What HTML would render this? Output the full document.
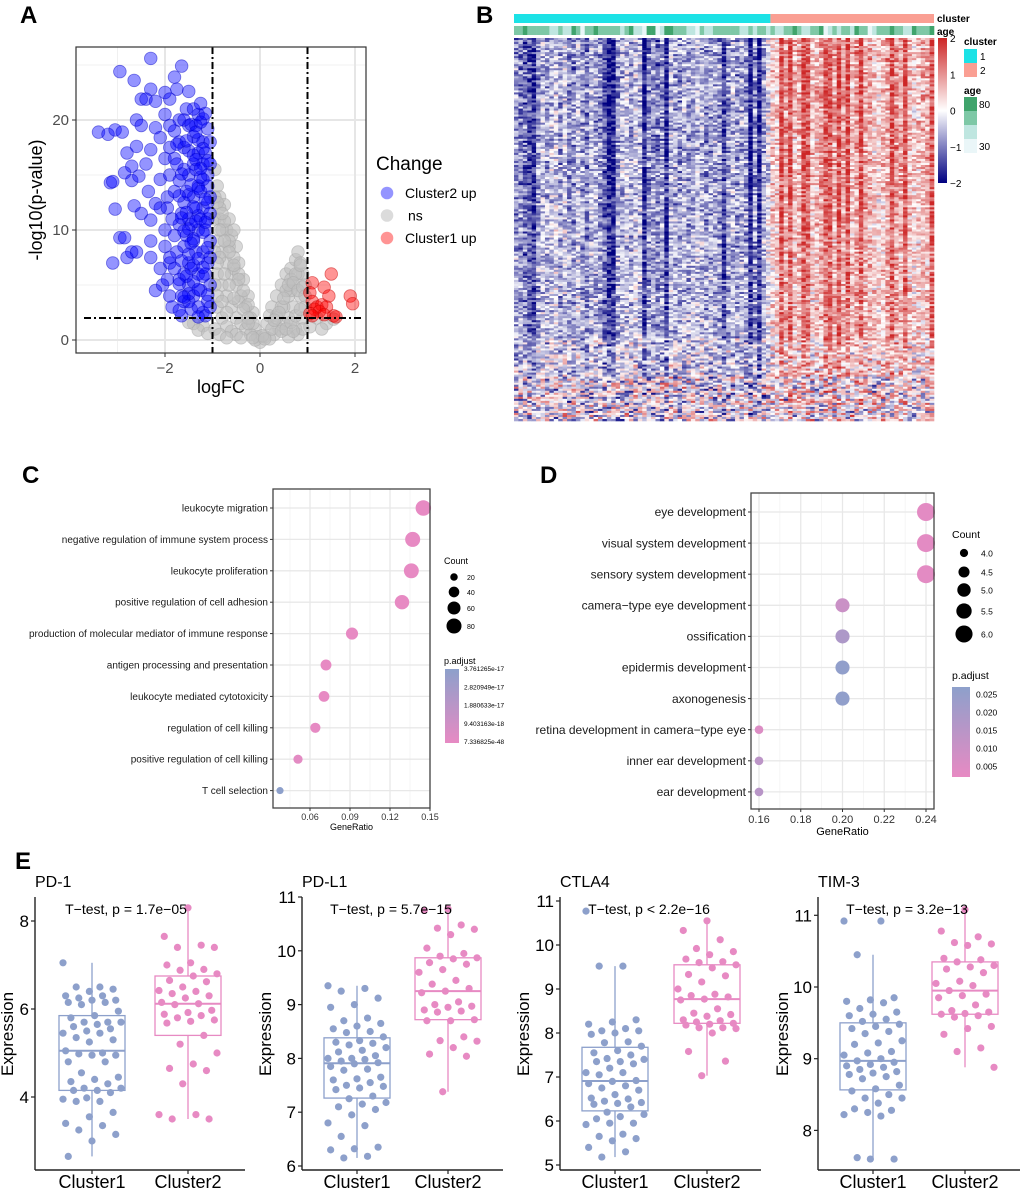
<!DOCTYPE html>
<html><head><meta charset="utf-8"><style>
html,body{margin:0;padding:0;background:#fff}
svg{display:block;font-family:"Liberation Sans",Arial,sans-serif}
</style></head><body>
<svg id="fig" width="1020" height="1188" viewBox="0 0 1020 1188" xmlns="http://www.w3.org/2000/svg">
<rect width="1020" height="1188" fill="#fff"/>
<text x="20" y="23" font-size="24" font-weight="bold">A</text>
<text x="476" y="23" font-size="24" font-weight="bold">B</text>
<text x="22" y="483" font-size="24" font-weight="bold">C</text>
<text x="540" y="483" font-size="24" font-weight="bold">D</text>
<text x="15" y="869" font-size="24" font-weight="bold">E</text>
</svg>
<script>
// ---------- DATA ----------
const blueX=[-3.4,-3.2,-3.05,-2.9,-2.95,-2.65,-2.3,-1.65,-1.8,-2.3,-2.0,-1.75,-1.5,-2.5,-2.4,-2.2,-1.9,-1.3,-1.2,-2.6,-2.5,-2.2,-2.8,-2.7,-2.85,-3.15,-3.1,-3.05,-2.95,-2.85,-3.1,-2.8,-2.7,-2.6,-2.3,-2.1,-2.2,-2.05,-1.9,-1.6,-1.65,-2.7,-2.55,-2.35,-2.5,-2.3,-2.65,-2.4,-2.3,-2.6,-2.1,-2.0,-2.1,-2.2,-2.0,-2.3,-2.0,-1.9,-2.1,-1.95,
-1.8,-1.7,-1.6,-1.5,-1.4,-1.3,-1.2,-1.1,-1.05,-1.1,-1.05,-1.1,-1.05,-1.1,-1.2,-1.3,-1.4,-1.5,-1.6,-1.7,-1.8,-1.5,-1.3,-1.2,-1.4,-1.6,-1.8,-1.7,-1.5,-1.3,-1.2,-1.4,-1.6,-1.8,-1.9,-1.7,-1.5,-1.3,-1.2,-1.4,-1.6,-1.8,-1.9,-1.7,-1.55,-1.35,-1.25,-1.45,-1.15,-1.35,-1.55,-1.75,-1.25,-1.45,-1.65,-1.15,-1.15,-1.25,-1.45,-1.65,-1.85,-1.95,-1.35,-1.55,-1.75,-1.15,-1.05,-1.05,-1.05,-1.1,-1.35,-1.6,-1.4,-1.25,-1.9,-2.0,-1.85,-1.95,-1.7,-1.5,-1.3,-1.9,-1.05,-1.05,
-1.5,-1.4,-1.3,-1.2,-1.1,-1.5,-1.4,-1.3,-1.2,-1.1,-1.5,-1.4,-1.3,-1.2,-1.1,-1.5,-1.4,-1.3,-1.2,-1.1,-1.5,-1.4,-1.3,-1.2,-1.1,-1.55,-1.45,-1.35,-1.25,-1.15,-1.55,-1.45,-1.35,-1.25,-1.15,-1.55,-1.45,-1.35,-1.25,-1.15,-1.65,-1.6,-1.7,-1.65,-1.75,-1.6,-1.7,-1.65];
const blueY=[18.9,18.7,19.1,18.9,24.4,23.6,25.6,24.9,23.9,22.8,22.5,22.8,22.6,21.9,21.9,21.7,21.9,20.5,20.1,20.0,19.5,19.3,17.0,15.8,15.2,14.3,14.4,11.9,9.3,9.3,7.0,7.5,8.0,8.0,7.5,6.5,4.5,5.0,4.0,3.5,2.2,14.5,14.9,13.5,11.5,10.9,12.2,16.0,17.3,17.6,18.4,16.5,14.6,12.4,10.0,9.0,8.5,7.0,12.0,13.0,
19,18,17.5,19.5,18.5,17,16,15,13,11,9,7,5,3.5,2.5,3,4,5,6,5.5,6.5,7,6,8,9,8.5,9.5,10.5,11,10,12,13,12.5,13.5,15,14.5,15,14,18,16,15.5,16.5,17.5,20,21,19.5,4.5,2.8,2.2,8,9.5,8,13.5,6.5,4,10,6,11,10.5,11.5,11,12,15.5,13.5,16,17,11.5,7.5,3,14,12,20,21,21.5,19.5,20.5,3,5.5,2.7,3.5,2.1,7.5,16,18,
4.2,5.3,4.6,5.8,4.1,7.8,6.8,7.4,6.6,8.4,10.1,9.2,11.3,9.8,12.5,13.2,12.1,13.8,14.6,16.3,17.2,16.8,18.2,17.4,19.2,5.8,8.8,10.8,14.8,12.8,11.6,14.1,16.4,15.6,10.7,18.1,19.6,18.9,19.8,20.6,7.2,9.9,13.1,15.1,17.8,3.9,5.1,11.1];
const greyX=[-0.95,-0.9,-0.85,-0.75,-0.85,-0.7,-0.6,-0.5,-0.45,-0.35,-0.25,-0.15,-0.1,-0.05,0,-0.9,-0.8,-0.7,-0.6,-0.5,-0.4,-0.3,-0.2,-0.9,-0.8,-0.7,-0.6,-0.5,-0.4,-0.3,-0.2,-0.9,-0.8,-0.7,-0.6,-0.5,-0.4,-0.95,-0.85,-0.7,-0.95,-0.95,-0.95,-0.95,-1.2,-1.4,-1.3,-0.1,0.1,0.15,0.25,0.35,0.45,0.55,0.65,0.75,0.8,0.9,0.95,0.85,0.7,0.6,0.5,0.4,0.3,0.2,0.75,0.9,0.95,0.8,0.6,1.2,1.4,1.55,0.5,0.6,0.7,0.8,-0.55,-0.65,-0.8,-0.65,-0.55,-0.45,0.05,0.2,0.35,0.65,0.85,-1.5,-1.1,1.05,1.3,
-0.85,-0.75,-0.65,-0.55,-0.45,-0.35,-0.25,-0.15,-0.85,-0.75,-0.65,-0.55,-0.45,-0.35,-0.25,-0.85,-0.75,-0.65,-0.55,-0.9,-0.8,-0.9,0.25,0.35,0.45,0.55,0.65,0.75,0.85,0.4,0.5,0.6,0.7,0.8,0.9,0.3,0.45,0.55,0.65,0.75,0.85,0.95,0.9,0.7,-0.9,-0.8,-0.7,-0.15,-0.25,0.1];
const greyY=[15.5,14,13,12.3,11,10,9.5,8.5,7,5.5,4,2.5,1,0.3,-0.2,9,8,7,6,5,4,3,2,6,5,4,3,2,1.5,1,0.5,3,2,1.2,0.8,0.5,0.2,1,0.5,0.2,5,8,11,13,1.3,1.5,0.9,0,0.3,1.5,3,4,5,6,6.5,7.3,8.0,6,5,4,3,2,1.5,1,0.5,0.1,1,2,3,0.5,0.3,2,1.5,1.9,3,4,5,6,10,11,10,8.5,6.5,3.5,0.4,2.2,2.2,4.5,7,1.6,0.6,1.2,1.0,
12,10.8,9,7.5,6,4.5,3.2,1.5,10,9,8,6.8,5.5,2.8,2,7.5,6,5,3.8,12.5,11.5,4,1,2,3,4.5,5.5,6,6.8,2.5,3.8,5,5.2,4.5,4.8,1.8,0.8,1,1.6,2.2,2.8,4,1,0.8,7,3.5,2.5,0.2,1.5,0.1];
const redX=[1.5,1.1,1.35,1.45,1.9,1.95,1.05,1.1,1.2,1.3,1.4,1.15,1.25,1.05,1.35,1.55,1.6,1.1];
const redY=[6.0,5.2,4.8,4.0,4.0,3.3,4.3,3.5,3.0,3.2,3.0,2.8,2.6,2.4,2.3,2.2,2.1,2.2];
const volcXTicks=[-2,0,2];
const volcYTicks=[0,10,20];

const hmLeftBias=[-0.8,-1.0,-1.2,-1.4,-1.8,-0.9,-0.6,-0.7,-0.5,-0.3,-0.8,-0.4,-0.9,-1.0,-0.5,-0.8,-1.1,-0.6,-0.7,-0.9,-1.3,-2.0,-1.9,-0.8,-0.6,-0.5,-0.7,-0.4,-0.6,-1.9,-1.0,-0.8,-1.1,-0.9,-1.9,-0.5,-0.7,-0.9,-0.6,-0.8,-0.7,-0.5,-0.6,-0.9,-0.8,-0.7,-0.8,-1.6,-0.9,-0.6,-0.8,-0.7,-0.9,-2.0,-0.9,-1.9,-0.7,-0.2];
const hmRightBias=[0.5,0.4,1.8,0.9,1.8,0.6,0.8,1.7,1.6,0.5,0.7,0.9,1.6,1.7,0.8,1.8,0.9,1.7,0.6,1.0,1.8,0.9,0.8,0.5,0.4,0.6,0.9,1.7,1.0,0.8,1.8,0.6,0.4,0.5,0.7,0.8,1.7];
const ageLevels="22322222112113202232222212311033013322211021122222211212212112232112230121221322012223221132";
const hmLegendTicks=[2,1,0,-1,-2];

const goTermsC=["leukocyte migration","negative regulation of immune system process","leukocyte proliferation","positive regulation of cell adhesion","production of molecular mediator of immune response","antigen processing and presentation","leukocyte mediated cytotoxicity","regulation of cell killing","positive regulation of cell killing","T cell selection"];
const geneRatioC=[0.145,0.137,0.136,0.129,0.0915,0.072,0.0705,0.064,0.051,0.0375];
const countC=[85,80,79,74,52,42,41,37,30,18];
const padjC=[7.3e-48,2e-40,5e-40,1e-35,5e-30,1e-20,2e-20,3e-19,1.5e-18,3.76e-17];
const xTicksC=[0.06,0.09,0.12,0.15];
const countLegendC=[20,40,60,80];
const padjLabelsC=["3.761265e-17","2.820949e-17","1.880633e-17","9.403163e-18","7.336825e-48"];

const goTermsD=["eye development","visual system development","sensory system development","camera\u2212type eye development","ossification","epidermis development","axonogenesis","retina development in camera\u2212type eye","inner ear development","ear development"];
const geneRatioD=[0.24,0.24,0.24,0.20,0.20,0.20,0.20,0.16,0.16,0.16];
const countD=[6,6,6,5,5,5,5,4,4,4];
const padjD=[0.003,0.003,0.003,0.010,0.018,0.026,0.026,0.005,0.014,0.015];
const xTicksD=[0.16,0.18,0.20,0.22,0.24];
const countLegendD=[4.0,4.5,5.0,5.5,6.0];
const padjTicksD=[0.025,0.020,0.015,0.010,0.005];

const pd1C1=[7.05,6.5,6.5,6.45,6.4,6.3,6.3,6.25,6.2,6.2,6.15,6.15,6.1,5.95,5.85,5.8,5.7,5.7,5.7,5.65,5.6,5.55,5.5,5.45,5.45,5.35,5.3,5.25,5.05,5.0,4.98,4.95,4.95,4.8,4.8,4.55,4.45,4.4,4.35,4.3,4.2,4.2,4.15,4.15,4.1,3.98,3.95,3.9,3.9,3.65,3.55,3.4,3.35,3.25,3.15,3.0,2.65];
const pd1C2=[8.3,7.65,7.45,7.4,7.4,7.05,7.0,6.9,6.88,6.8,6.75,6.65,6.62,6.5,6.42,6.4,6.35,6.3,6.25,6.15,6.12,6.1,5.97,5.92,5.88,5.85,5.8,5.75,5.72,5.68,5.4,5.2,5.0,4.75,4.65,4.6,4.3,3.6,3.6,3.5,3.5];
const pdl1C1=[9.35,9.3,9.25,9.12,9.0,8.95,8.75,8.7,8.65,8.6,8.55,8.5,8.48,8.4,8.33,8.3,8.28,8.25,8.2,8.15,8.12,8.05,8.0,8.0,7.98,7.95,7.92,7.9,7.85,7.8,7.78,7.65,7.62,7.6,7.55,7.5,7.48,7.45,7.42,7.3,7.25,7.18,7.15,7.1,7.05,6.95,6.8,6.75,6.55,6.35,6.32,6.3,6.18,6.15];
const pdl1C2=[10.78,10.75,10.48,10.42,10.4,10.3,10.05,9.95,9.9,9.87,9.85,9.78,9.75,9.65,9.6,9.45,9.38,9.3,9.25,9.22,9.05,9.0,8.97,8.95,8.9,8.88,8.86,8.72,8.7,8.7,8.4,8.33,8.32,8.2,8.08,8.04,7.38];
const ctla4C1=[10.77,9.52,9.52,8.3,8.25,8.2,8.1,8.05,8.05,8.0,7.97,7.8,7.78,7.7,7.6,7.55,7.5,7.42,7.4,7.35,7.35,7.3,7.2,7.1,7.1,7.05,6.92,6.9,6.85,6.8,6.75,6.7,6.6,6.52,6.5,6.45,6.42,6.4,6.38,6.32,6.2,6.15,6.1,6.05,5.95,5.95,5.92,5.7,5.65,5.6,5.55,5.4,5.3,5.18];
const ctla4C2=[10.55,10.33,10.12,9.92,9.85,9.78,9.68,9.62,9.6,9.55,9.48,9.33,9.3,9.16,9.0,8.88,8.85,8.82,8.77,8.75,8.55,8.45,8.42,8.38,8.3,8.28,8.25,8.22,8.2,8.18,8.12,8.12,8.1,8.0,7.58,7.36,7.03];
const tim3C1=[10.92,10.92,10.45,9.85,9.82,9.8,9.78,9.7,9.65,9.62,9.6,9.55,9.52,9.48,9.45,9.42,9.38,9.35,9.25,9.22,9.2,9.1,9.08,9.05,9.0,8.97,8.95,8.92,8.9,8.88,8.85,8.82,8.8,8.78,8.75,8.72,8.63,8.58,8.55,8.5,8.45,8.45,8.38,8.3,8.28,8.25,8.22,8.2,7.62,7.6,7.6];
const tim3C2=[11.08,10.78,10.7,10.62,10.6,10.58,10.4,10.38,10.35,10.3,10.28,10.25,10.2,10.08,10.05,10.02,9.95,9.9,9.88,9.85,9.75,9.67,9.65,9.63,9.62,9.6,9.58,9.45,9.42,9.34,9.15,9.1,8.88];
const boxTitles=["PD-1","PD-L1","CTLA4","TIM-3"];
const boxPText=["T\u2212test, p = 1.7e\u221205","T\u2212test, p = 5.7e\u221215","T\u2212test, p < 2.2e\u221216","T\u2212test, p = 3.2e\u221213"];
const pd1Ticks=[4,6,8], pdl1Ticks=[6,7,8,9,10,11], ctla4Ticks=[5,6,7,8,9,10,11], tim3Ticks=[8,9,10,11];
const groupNames=["Cluster1","Cluster2"];

// ---------- HELPERS ----------
const NS='http://www.w3.org/2000/svg';
const svg=document.getElementById('fig');
function mk(tag,attrs,parent){const e=document.createElementNS(NS,tag);for(const k in attrs)e.setAttribute(k,attrs[k]);(parent||svg).appendChild(e);return e;}
function txt(x,y,s,size,anchor,extra,parent){const e=mk('text',Object.assign({x:x,y:y,'font-size':size,'text-anchor':anchor||'start'},extra||{}),parent);e.textContent=s;return e;}
function lerp(a,b,t){return a+(b-a)*t;}
function mixRGB(c1,c2,t){return 'rgb('+Math.round(lerp(c1[0],c2[0],t))+','+Math.round(lerp(c1[1],c2[1],t))+','+Math.round(lerp(c1[2],c2[2],t))+')';}
const PINK=[231,138,195], BLUEP=[141,160,203];

// ---------- PANEL A: VOLCANO ----------
(function(){
  const g=mk('g',{});
  
  
  const X0=76,X1=366,Y0=47,Y1=353;
  const sx=v=>260+v*47.5, sy=v=>340-v*11;
  const bg=mk('rect',{x:X0,y:Y0,width:X1-X0,height:Y1-Y0,fill:'#fff'},g);
  
  
  [-3,-1,1].forEach(v=>{const l=mk('line',{x1:sx(v),x2:sx(v),y1:Y0,y2:Y1,stroke:'#f0f0f0','stroke-width':1},g);});
  [5,15,25].forEach(v=>{const l=mk('line',{x1:X0,x2:X1,y1:sy(v),y2:sy(v),stroke:'#f0f0f0','stroke-width':1},g);});
  volcXTicks.forEach(v=>{const l=mk('line',{x1:sx(v),x2:sx(v),y1:Y0,y2:Y1,stroke:'#e6e6e6','stroke-width':2},g);});
  volcYTicks.forEach(v=>{const l=mk('line',{x1:X0,x2:X1,y1:sy(v),y2:sy(v),stroke:'#e6e6e6','stroke-width':2},g);});
  function pts(xs,ys,fill,stroke,name){for(let i=0;i<xs.length;i++){const c=mk('circle',{cx:sx(xs[i]),cy:sy(ys[i]),r:6.3,fill:fill,stroke:stroke,'stroke-width':0.8},g);}}
  pts(greyX,greyY,'rgba(190,190,190,0.6)','rgba(170,170,170,0.6)','ns-point');
  pts(blueX,blueY,'rgba(0,0,255,0.42)','rgba(0,0,200,0.5)','cluster2-up-point');
  pts(redX,redY,'rgba(255,0,0,0.42)','rgba(200,0,0,0.5)','cluster1-up-point');
  [-1,1].forEach(v=>{const l=mk('line',{x1:sx(v),x2:sx(v),y1:Y0,y2:Y1,stroke:'#000','stroke-width':2,'stroke-dasharray':'7,3,2,3'},g);});
  const h=mk('line',{x1:X0+8,x2:X1-5,y1:sy(2),y2:sy(2),stroke:'#000','stroke-width':2,'stroke-dasharray':'7,3,2,3'},g);
  
  
  const fr=mk('rect',{x:X0,y:Y0,width:X1-X0,height:Y1-Y0,fill:'none',stroke:'#333','stroke-width':1.2},g);
  
  
  volcXTicks.forEach(v=>{const t=mk('line',{x1:sx(v),x2:sx(v),y1:Y1,y2:Y1+4,stroke:'#333'},g);const tl=txt(sx(v),Y1+20,String(v).replace('-','\u2212'),15,'middle',{fill:'#4d4d4d'},g);});
  volcYTicks.forEach(v=>{const t=mk('line',{x1:X0-4,x2:X0,y1:sy(v),y2:sy(v),stroke:'#333'},g);const tl=txt(X0-7,sy(v)+5,String(v),15,'end',{fill:'#4d4d4d'},g);});
  const xt=txt(221,393,'logFC',18,'middle',{},g);
  const yt=txt(0,0,'-log10(p-value)',18,'middle',{transform:'translate(42,200) rotate(-90)'},g);
  const lt=txt(376,170,'Change',19,'start',{},g);
  const leg=[['Cluster2 up','rgba(0,0,255,0.42)'],['ns','rgba(190,190,190,0.55)'],['Cluster1 up','rgba(255,0,0,0.42)']];
  leg.forEach((e,i)=>{const y=193+i*22.5;const c=mk('circle',{cx:387,cy:y,r:6.3,fill:e[1]},g);const t=txt(i==1?408:405,y+5,e[0],14,'start',{},g);});
})();

// ---------- PANEL B: HEATMAP ----------
(function(){
  const g=mk('g',{});
  
  
  const X0=514,X1=934,Y0=38,Y1=421,NR=190;
  const nL=hmLeftBias.length,nR=hmRightBias.length,NC=nL+nR;
  const cw=(X1-X0)/NC, rh=(Y1-Y0)/NR;
  const bias=hmLeftBias.concat(hmRightBias);
  function hash(i,j){let h=(i*374761393+j*668265263)|0;h=(h^(h>>>13))*1274126177|0;h=h^(h>>>16);return ((h>>>0)%10000)/10000*2-1;}
  function col(v){v=Math.max(-2,Math.min(2,v));if(v<0)return mixRGB([255,255,255],[0,0,128],-v/2);return mixRGB([255,255,255],[205,38,38],v/2);}
  for(let i=0;i<NR;i++){
    const f=i/NR;
    const s=f<0.78?1-0.3*f:(f<0.88?0.5:0.15);
    const nz=f<0.78?0.7:(f<0.88?0.95:1.3);
    for(let j=0;j<NC;j++){
      const n=hash(i,j)+0.5*hash(j,i+7);
      const v=bias[j]*s+n*nz;
      const r=mk('rect',{x:(X0+j*cw).toFixed(2),y:(Y0+i*rh).toFixed(2),width:(cw+0.3).toFixed(2),height:(rh+0.3).toFixed(2),fill:col(v)},g);
      
      
    }
  }
  const cb1=mk('rect',{x:X0,y:14,width:nL*cw,height:9,fill:'#1ce2e6'},g);
  const cb2=mk('rect',{x:X0+nL*cw,y:14,width:nR*cw,height:9,fill:'#fa9f93'},g);
  const ageCols=['#eaf6f8','#bfe6e0','#7ec8a6','#40a46c'];
  for(let j=0;j<NC;j++){const a=+ageLevels[j%ageLevels.length];const r=mk('rect',{x:X0+j*cw,y:26,width:cw+0.3,height:9,fill:ageCols[a]},g);}
  const l1=txt(937,22,'cluster',10,'start',{'font-weight':'bold'},g);
  const l2=txt(937,35,'age',10,'start',{'font-weight':'bold'},g);
  const defs=mk('defs',{},g);
  const lg=mk('linearGradient',{id:'hmGrad',x1:0,y1:0,x2:0,y2:1},defs);
  mk('stop',{offset:'0','stop-color':'#cd2626'},lg);mk('stop',{offset:'0.5','stop-color':'#ffffff'},lg);mk('stop',{offset:'1','stop-color':'#000080'},lg);
  const bar=mk('rect',{x:938,y:38,width:9,height:145,fill:'url(#hmGrad)'},g);
  hmLegendTicks.forEach(v=>{const y=38+(2-v)/4*145;const t=txt(950,y+4,String(v).replace('-','\u2212'),10,'start',{},g);});
  const ct=txt(964,45,'cluster',10,'start',{'font-weight':'bold'},g);
  [['1','#1ce2e6'],['2','#fa9f93']].forEach((e,i)=>{const r=mk('rect',{x:964,y:49+i*14,width:13,height:14,fill:e[1]},g);const t=txt(980,60+i*14,e[0],10,'start',{},g);});
  const at=txt(964,94,'age',10,'start',{'font-weight':'bold'},g);
  ['#40a46c','#7ec8a6','#bfe6e0','#eaf6f8'].forEach((c,i)=>{const r=mk('rect',{x:964,y:97+i*14,width:13,height:14,fill:c},g);});
  const a1=txt(979,108,'80',10,'start',{},g);
  const a2=txt(979,150,'30',10,'start',{},g);
})();

// ---------- DOT PLOTS C & D ----------
function dotPlot(o){
  const g=mk('g',{});
  
  
  const sx=v=>o.x0+(v-o.xa)/(o.xb-o.xa)*(o.xbPx-o.x0);
  const sy=i=>o.ry0+i*o.rstep;
  o.minor.forEach(v=>{const l=mk('line',{x1:sx(v),x2:sx(v),y1:o.top,y2:o.bot,stroke:'#f2f2f2','stroke-width':0.8},g);});
  o.ticks.forEach(v=>{const l=mk('line',{x1:sx(v),x2:sx(v),y1:o.top,y2:o.bot,stroke:'#e8e8e8','stroke-width':1.3},g);});
  o.terms.forEach((t,i)=>{const l=mk('line',{x1:o.left,x2:o.right,y1:sy(i),y2:sy(i),stroke:'#e8e8e8','stroke-width':1.3},g);
    const tk=mk('line',{x1:o.left-3,x2:o.left,y1:sy(i),y2:sy(i),stroke:'#333'},g);
    const lb=txt(o.left-5,sy(i)+o.fs*0.35,t,o.fs,'end',{fill:'#1a1a1a'},g);});
  o.terms.forEach((t,i)=>{const c=mk('circle',{cx:sx(o.ratio[i]),cy:sy(i),r:o.rad(o.count[i]),fill:mixRGB(PINK,BLUEP,o.cnorm(o.padj[i]))},g);});
  const fr=mk('rect',{x:o.left,y:o.top,width:o.right-o.left,height:o.bot-o.top,fill:'none',stroke:'#444','stroke-width':1.3},g);
  o.ticks.forEach(v=>{const tk=mk('line',{x1:sx(v),x2:sx(v),y1:o.bot,y2:o.bot+3,stroke:'#333'},g);const lb=txt(sx(v),o.bot+o.tfs+3,v.toFixed(2),o.tfs,'middle',{fill:'#333'},g);});
  const xt=txt((o.left+o.right)/2,o.bot+o.tfs*2+4,'GeneRatio',o.tfs,'middle',{},g);
  return g;
}
(function(){
  const cmax=Math.max(...padjC);
  const g=dotPlot({name:'go-dotplot-c',terms:goTermsC,ratio:geneRatioC,count:countC,padj:padjC,x0:310,xa:0.06,xb:0.15,xbPx:430,ticks:xTicksC,minor:[0.045,0.075,0.105,0.135],left:273,right:430,top:489,bot:808,ry0:508,rstep:31.4,fs:10,tfs:9,rad:c=>0.84*Math.sqrt(c),cnorm:p=>p/cmax});
  const t=txt(444,564,'Count',9,'start',{},g);
  const ys=[577,592,608,626];
  countLegendC.forEach((c,i)=>{const d=mk('circle',{cx:454,cy:ys[i],r:0.84*Math.sqrt(c)},g);const l=txt(467,ys[i]+3,String(c),7,'start',{},g);});
  const pt=txt(444,664,'p.adjust',9,'start',{},g);
  const defs=mk('defs',{},g);const lg=mk('linearGradient',{id:'gradC',x1:0,y1:0,x2:0,y2:1},defs);
  mk('stop',{offset:'0','stop-color':'rgb(141,160,203)'},lg);mk('stop',{offset:'1','stop-color':'rgb(231,138,195)'},lg);
  const b=mk('rect',{x:445,y:669,width:14,height:74,fill:'url(#gradC)'},g);
  padjLabelsC.forEach((s,i)=>{const l=txt(464,671+i*18.3,s,6.5,'start',{},g);});
})();
(function(){
  const lo=0.002,hi=0.027;
  const rad=c=>Math.sqrt(18.5+(c-4)/2*(81-18.5));
  const g=dotPlot({name:'go-dotplot-d',terms:goTermsD,ratio:geneRatioD,count:countD,padj:padjD,x0:759,xa:0.16,xb:0.24,xbPx:926,ticks:xTicksD,minor:[0.17,0.19,0.21,0.23],left:751,right:934,top:493,bot:809,ry0:512,rstep:31.1,fs:12,tfs:11,rad:rad,cnorm:p=>(p-lo)/(hi-lo)});
  const t=txt(952,538,'Count',10.5,'start',{},g);
  const ys=[553,572,590,611,634];
  countLegendD.forEach((c,i)=>{const d=mk('circle',{cx:964,cy:ys[i],r:rad(c)*0.95},g);const l=txt(981,ys[i]+3.5,c.toFixed(1),8.5,'start',{},g);});
  const pt=txt(952,679,'p.adjust',10.5,'start',{},g);
  const defs=mk('defs',{},g);const lg=mk('linearGradient',{id:'gradD',x1:0,y1:0,x2:0,y2:1},defs);
  mk('stop',{offset:'0','stop-color':'rgb(141,160,203)'},lg);mk('stop',{offset:'1','stop-color':'rgb(231,138,195)'},lg);
  const b=mk('rect',{x:952,y:687,width:18,height:90,fill:'url(#gradD)'},g);
  padjTicksD.forEach(v=>{const y=687+(hi-v)/(hi-lo)*90;const l=txt(976,y+3.5,v.toFixed(3),8.5,'start',{},g);});
})();

// ---------- PANEL E: BOXPLOTS ----------
function quant(a,q){const s=[...a].sort((x,y)=>x-y);const p=(s.length-1)*q;const lo=Math.floor(p),hi=Math.ceil(p);return s[lo]+(s[hi]-s[lo])*(p-lo);}
function boxPanel(o){
  const g=mk('g',{});
  
  
  const sy=v=>o.yRef-(v-o.vRef)*o.ppu;
  const cols=['#8DA0CB','#E78AC3'];
  [o.d1,o.d2].forEach((d,k)=>{
    const cx=k==0?o.c1:o.c2;
    const q1=quant(d,0.25),q3=quant(d,0.75),md=quant(d,0.5),iqr=q3-q1;
    const wlo=Math.min(...d.filter(v=>v>=q1-1.5*iqr)),whi=Math.max(...d.filter(v=>v<=q3+1.5*iqr));
    const w1=mk('line',{x1:cx,x2:cx,y1:sy(whi),y2:sy(q3),stroke:cols[k],'stroke-width':1.3},g);
    const w2=mk('line',{x1:cx,x2:cx,y1:sy(q1),y2:sy(wlo),stroke:cols[k],'stroke-width':1.3},g);
    const b=mk('rect',{x:cx-33,y:sy(q3),width:66,height:sy(q1)-sy(q3),fill:'#fff',stroke:cols[k],'stroke-width':1.3},g);
    const m=mk('line',{x1:cx-33,x2:cx+33,y1:sy(md),y2:sy(md),stroke:cols[k],'stroke-width':2},g);
    d.forEach((v,i)=>{const jx=(((i*37+k*11)%23)/22-0.5)*58;const c=mk('circle',{cx:cx+jx,cy:sy(v),r:3.6,fill:cols[k]},g);});
  });
  const ya=mk('line',{x1:o.x0,x2:o.x0,y1:897,y2:1170,stroke:'#222','stroke-width':1.4},g);
  const xa=mk('line',{x1:o.x0,x2:o.xEnd,y1:1170,y2:1170,stroke:'#222','stroke-width':1.4},g);
  o.ticks.forEach(v=>{const t=mk('line',{x1:o.x0-4,x2:o.x0,y1:sy(v),y2:sy(v),stroke:'#222','stroke-width':1.2},g);const l=txt(o.x0-6,sy(v)+6,String(v),17,'end',{},g);});
  [o.c1,o.c2].forEach((cx,k)=>{const t=mk('line',{x1:cx,x2:cx,y1:1170,y2:1174,stroke:'#222','stroke-width':1.2},g);const l=txt(cx,1188,groupNames[k],18,'middle',{},g);});
  const ti=txt(o.x0,887,o.title,16,'start',{},g);
  const pt=txt(o.pX,914,o.ptext,14,'middle',{},g);
  const yl=txt(0,0,'Expression',17,'middle',{transform:'translate('+o.ylX+',1034) rotate(-90)'},g);
}
boxPanel({name:'boxplot-pd1',d1:pd1C1,d2:pd1C2,x0:35,xEnd:245,c1:92,c2:188,yRef:921,vRef:8,ppu:44,ticks:pd1Ticks,title:boxTitles[0],ptext:boxPText[0],pX:126,ylX:13});
boxPanel({name:'boxplot-pdl1',d1:pdl1C1,d2:pdl1C2,x0:302,xEnd:503,c1:357,c2:448,yRef:897,vRef:11,ppu:53.8,ticks:pdl1Ticks,title:boxTitles[1],ptext:boxPText[1],pX:391,ylX:271});
boxPanel({name:'boxplot-ctla4',d1:ctla4C1,d2:ctla4C2,x0:560,xEnd:761,c1:615,c2:707,yRef:901,vRef:11,ppu:44,ticks:ctla4Ticks,title:boxTitles[2],ptext:boxPText[2],pX:649,ylX:529});
boxPanel({name:'boxplot-tim3',d1:tim3C1,d2:tim3C2,x0:818,xEnd:1020,c1:873,c2:965,yRef:987,vRef:10,ppu:71.7,ticks:tim3Ticks,title:boxTitles[3],ptext:boxPText[3],pX:907,ylX:788});
</script>
</body></html>
